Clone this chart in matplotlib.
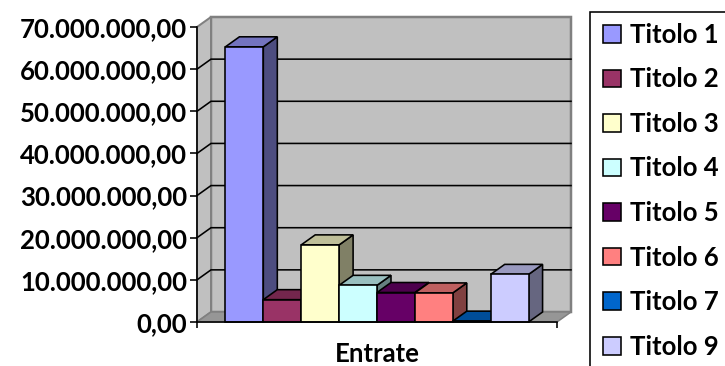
import matplotlib
matplotlib.use("Agg")
import matplotlib.pyplot as plt
from matplotlib.patches import Polygon, Rectangle, Patch
from matplotlib.colors import to_rgb
import numpy as np

# ---- data ----
categories = ["Titolo 1", "Titolo 2", "Titolo 3", "Titolo 4",
              "Titolo 5", "Titolo 6", "Titolo 7", "Titolo 9"]
values = [65.3e6, 5.3e6, 18.3e6, 8.7e6, 7.0e6, 6.9e6, 0.2e6, 11.3e6]
colors = ["#9999FF", "#993366", "#FFFFCC", "#CCFFFF",
          "#660066", "#FF8080", "#0066CC", "#CCCCFF"]
yticks = [0, 10e6, 20e6, 30e6, 40e6, 50e6, 60e6, 70e6]
xlabel = "Entrate"

plt.rcParams['font.family'] = ['Lato', 'DejaVu Sans']
plt.rcParams['font.weight'] = 'bold'
FS = 18.5
LFS = 18.5

W, H = 725, 366
fig = plt.figure(figsize=(W / 100, H / 100), dpi=100)
# front plane of the 3D box (pixels)
L, R, B, T = 197, 557, 322, 27
ax = fig.add_axes([L / W, (H - B) / H, (R - L) / W, (B - T) / H])
ax.set_facecolor("none")
xmin, xmax = -1.25, 8.25
ymin, ymax = 0, 70e6
ax.set_xlim(xmin, xmax)
ax.set_ylim(ymin, ymax)

# depth offset (pixels) -> data units
DXP, DYP = 14, 10
dx = DXP / (R - L) * (xmax - xmin)
dy = DYP / (B - T) * (ymax - ymin)

px = 72 / 100  # points per pixel

# walls / floor
wall = "#C0C0C0"
edge = "#808080"
back = Polygon([(xmin + dx, ymin + dy), (xmax + dx, ymin + dy),
                (xmax + dx, ymax + dy), (xmin + dx, ymax + dy)],
               closed=True, facecolor=wall, edgecolor=edge, lw=2.5 * px,
               clip_on=False, zorder=0)
ax.add_patch(back)
left = Polygon([(xmin, ymin), (xmin + dx, ymin + dy),
                (xmin + dx, ymax + dy), (xmin, ymax)],
               closed=True, facecolor=wall, edgecolor=edge, lw=2 * px,
               clip_on=False, zorder=0.5)
ax.add_patch(left)
floor = Polygon([(xmin, ymin), (xmax, ymin),
                 (xmax + dx, ymin + dy), (xmin + dx, ymin + dy)],
                closed=True, facecolor="#969696", edgecolor=edge, lw=1.5 * px,
                clip_on=False, zorder=0.6)
ax.add_patch(floor)

# gridlines on left wall and back wall
for t in yticks[1:-1]:
    ax.plot([xmin, xmin + dx, xmax + dx], [t, t + dy, t + dy],
            color="black", lw=1.6 * px, clip_on=False, zorder=1,
            solid_joinstyle="miter")

# 3D bars
w = 1.0
z = 2
for i, (v, c) in enumerate(zip(values, colors)):
    x0, x1 = i - w / 2, i + w / 2
    rgb = np.array(to_rgb(c))
    side = Polygon([(x1, 0), (x1 + dx, dy), (x1 + dx, v + dy), (x1, v)],
                   closed=True, facecolor=rgb * 0.5, edgecolor="black",
                   lw=1.6 * px, clip_on=False, zorder=z)
    top = Polygon([(x0, v), (x1, v), (x1 + dx, v + dy), (x0 + dx, v + dy)],
                  closed=True, facecolor=rgb * 0.75, edgecolor="black",
                  lw=1.6 * px, clip_on=False, zorder=z + 0.1)
    ax.add_patch(side)
    ax.add_patch(top)
    ax.bar(i, v, width=w, color=c, edgecolor="black", lw=1.6 * px,
           zorder=z + 0.2, clip_on=False)
    z += 1

# axes styling
for s in ["top", "right"]:
    ax.spines[s].set_visible(False)
for s in ["left", "bottom"]:
    ax.spines[s].set_linewidth(1.6 * px)
    ax.spines[s].set_color("black")
    ax.spines[s].set_zorder(50)

def fmt(v):
    s = f"{v:,.2f}"
    return s.replace(",", "X").replace(".", ",").replace("X", ".")

ax.set_yticks(yticks)
ax.set_yticklabels([fmt(v) for v in yticks], fontsize=FS, fontweight="bold")
ax.tick_params(axis="y", direction="out", length=7 * px, width=1.6 * px,
               pad=3 * px)
ax.set_xticks([xmin, xmax])
ax.set_xticklabels(["", ""])
ax.tick_params(axis="x", direction="out", length=6 * px, width=1.6 * px)
ax.set_xlabel(xlabel, fontsize=FS, fontweight="bold", labelpad=6.5)

# legend frame (extends past the figure edges, as in the reference)
fig.patches.append(Rectangle((590 / W, -0.2), 1.0, (H - 12) / H + 0.2,
                             transform=fig.transFigure, facecolor="white",
                             edgecolor="black", lw=1.6 * px, zorder=0))
handles = [Patch(facecolor=c, edgecolor="black", lw=1.6 * px) for c in colors]
leg = fig.legend(handles, categories, loc="upper left",
                 bbox_to_anchor=(592 / W, (H - 12) / H),
                 bbox_transform=fig.transFigure, frameon=False,
                 prop={"size": LFS, "weight": "bold"},
                 handlelength=0.72, handleheight=0.68, handletextpad=0.32,
                 labelspacing=0.8, borderpad=0.42, borderaxespad=0)

fig.savefig("out.png", dpi=100)
